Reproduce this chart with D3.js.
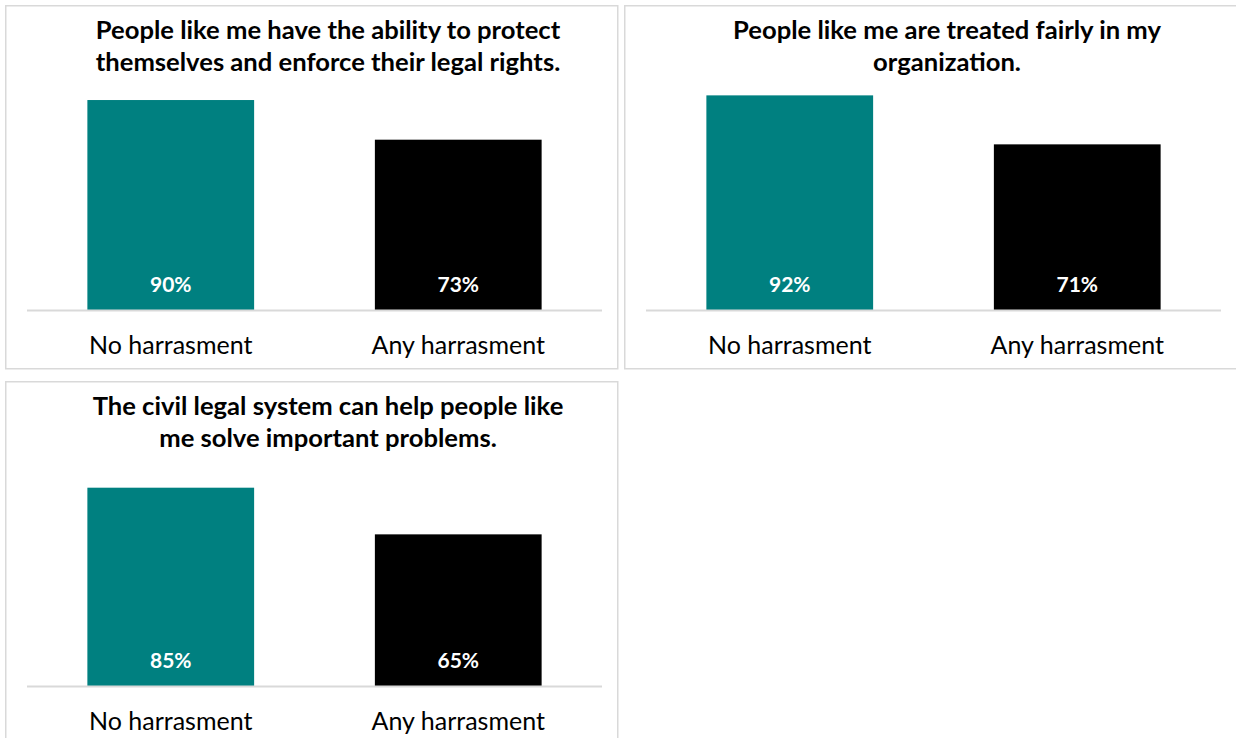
<!DOCTYPE html>
<html>
<head>
<meta charset="utf-8">
<script src="https://cdn.jsdelivr.net/npm/d3@7"></script>
<style>
  html, body { margin: 0; padding: 0; background: #ffffff; }
  svg { display: block; }
  text { font-family: Lato, "Open Sans", sans-serif; }
</style>
</head>
<body>
<svg id="chart" width="1236" height="738"></svg>
<script>
// Survey statements (one small-multiple panel each)
const titles = [
  ["People like me have the ability to protect", "themselves and enforce their legal rights."],
  ["People like me are treated fairly in my", "organization."],
  ["The civil legal system can help people like", "me solve important problems."]
];
// Respondent groups shown on each panel's x axis
const categories = ["No harrasment", "Any harrasment"];
// Share agreeing (%) for each group, per panel
const noHarassment = [90, 92, 85];
const anyHarassment = [73, 71, 65];
const barColors = ["#008080", "#000000"];

const svg = d3.select("#chart");

// Panel frames: top-left corner of each statement's box
const panelPos = [[5, 5], [624, 5], [5, 381]];
const panelW = 612, panelH = 363;

const x = d3.scaleBand()
  .domain(categories)
  .range([22, 597])
  .paddingInner(0.42)
  .paddingOuter(0.21);

const y = d3.scaleLinear()
  .domain([0, 100])
  .range([305, 71.7]);

titles.forEach((title, i) => {
  const [px, py] = panelPos[i];
  const g = svg.append("g").attr("transform", `translate(${px},${py})`);

  g.append("rect")
    .attr("x", 0.75).attr("y", 0.75)
    .attr("width", panelW).attr("height", panelH)
    .attr("fill", "#ffffff")
    .attr("stroke", "#d9d9d9")
    .attr("stroke-width", 1.5);

  // Two-line bold title
  g.append("text")
    .attr("text-anchor", "middle")
    .attr("font-weight", "bold")
    .attr("font-size", 25.6)
    .attr("fill", "#000000")
    .selectAll("tspan")
    .data(title)
    .join("tspan")
      .attr("x", 323)
      .attr("y", (d, k) => 25 + k * 32)
      .attr("dy", "0.35em")
      .text(d => d);

  const vals = [noHarassment[i], anyHarassment[i]];
  const rows = categories.map((c, k) => ({ cat: c, v: vals[k], color: barColors[k] }));

  g.selectAll("rect.bar")
    .data(rows)
    .join("rect")
      .attr("class", "bar")
      .attr("x", d => x(d.cat))
      .attr("width", x.bandwidth())
      .attr("y", d => y(d.v))
      .attr("height", d => y(0) - y(d.v))
      .attr("fill", d => d.color);

  // Value labels inside bars, near the base
  g.selectAll("text.val")
    .data(rows)
    .join("text")
      .attr("class", "val")
      .attr("x", d => x(d.cat) + x.bandwidth() / 2)
      .attr("y", y(0) - 25)
      .attr("dy", "0.35em")
      .attr("text-anchor", "middle")
      .attr("font-weight", "bold")
      .attr("font-size", 21)
      .attr("fill", "#ffffff")
      .text(d => d.v + "%");

  // Category axis
  const axis = g.append("g")
    .attr("transform", `translate(0,${y(0)})`)
    .call(d3.axisBottom(x).tickSize(0).tickPadding(0));
  axis.select(".domain")
    .attr("d", `M${x.range()[0]},0.5H${x.range()[1]}`)
    .attr("stroke", "#d9d9d9")
    .attr("stroke-width", 2);
  axis.selectAll(".tick text")
    .attr("y", 35)
    .attr("dy", "0.35em")
    .attr("font-size", 25)
    .attr("font-family", "Lato, sans-serif")
    .attr("fill", "#000000");
});
</script>
</body>
</html>
